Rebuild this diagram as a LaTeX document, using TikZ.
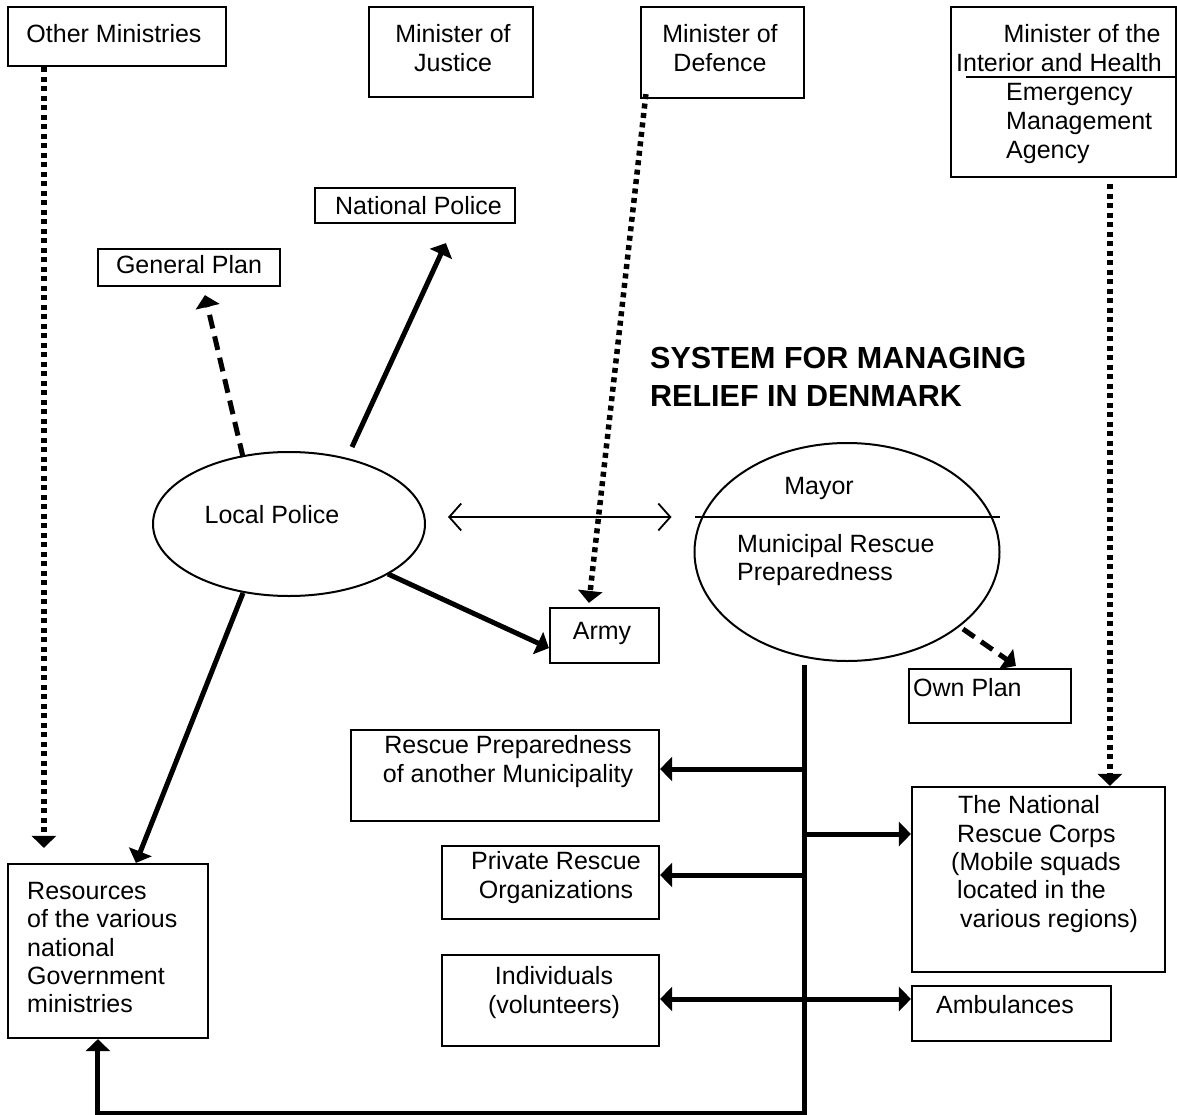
\documentclass[tikz,border=0pt]{standalone}
\usepackage{fontspec}
\setmainfont{Liberation Sans}
\usetikzlibrary{arrows.meta,shapes.geometric,calc}
\begin{document}
\begin{tikzpicture}[x=1pt,y=-1pt,
  box/.style={draw,line width=2.2pt,inner sep=0pt},
  oval/.style={draw,ellipse,line width=2pt,inner sep=0pt},
  txt/.style={inner sep=0pt,anchor=base,font=\fontsize{25}{29}\selectfont},
  ltxt/.style={txt,anchor=base west},
  ttl/.style={inner sep=0pt,anchor=base west,font=\fontsize{30.5}{37}\selectfont\bfseries},
  heavy/.style={line width=5pt},
  tip/.style={-{Triangle[length=12pt,width=24pt]}},
  twotip/.style={{Triangle[length=12pt,width=24pt]}-{Triangle[length=12pt,width=24pt]}},
  dots/.style={line width=5.5pt,dash pattern=on 5pt off 4.5pt},
  dashes/.style={line width=5pt,dash pattern=on 14pt off 8pt}]
\fill[white] (0,0) rectangle (1177,1115);
\useasboundingbox (0,0) rectangle (1177,1115);

% top row
\node[box,minimum width=218pt,minimum height=59pt] (om) at (117,36.5) {};
\node[txt] (omT) at (114,43) {Other Ministries};

\node[box,minimum width=164pt,minimum height=90pt] (mj) at (451,52) {};
\node[txt] (mjT1) at (453,43) {Minister of};
\node[txt] (mjT2) at (453,72) {Justice};

\node[box,minimum width=163pt,minimum height=91pt] (md) at (722.5,52.5) {};
\node[txt] (mdT1) at (720,43) {Minister of};
\node[txt] (mdT2) at (720,72) {Defence};

\node[box,minimum width=225pt,minimum height=170pt] (mi) at (1063.5,92) {};
\node[txt] (miT1) at (1082,43) {Minister of the};
\node[txt] (miT2) at (1059,72) {Interior and Health};
\draw[line width=2pt] ($(mi.west)+(16,-15)$) -- ($(mi.east)+(0,-15)$);
\node[ltxt] (miT3) at (1006,101) {Emergency};
\node[ltxt] (miT4) at (1006,130) {Management};
\node[ltxt] (miT5) at (1006,159) {Agency};

\node[box,minimum width=200pt,minimum height=35pt] (np) at (415,205.5) {};
\node[txt] (npT) at (418.5,215) {National Police};

\node[box,minimum width=182pt,minimum height=37pt] (gp) at (189,267.5) {};
\node[txt] (gpT) at (189,273) {General Plan};

% title
\node[ttl] (t1) at (650,368) {SYSTEM FOR MANAGING};
\node[ttl] (t2) at (650,406) {RELIEF IN DENMARK};

% ellipses
\node[oval,minimum width=272pt,minimum height=144pt] (lp) at (289,524) {};
\node[txt] (lpT) at (272,523) {Local Police};

\node[oval,minimum width=305pt,minimum height=218pt] (mayor) at (847,552) {};
\draw[line width=2pt] ($(mayor.center)+(-152,-35)$) -- ($(mayor.center)+(153,-35)$);
\node[txt] (mayT) at (819,494) {Mayor};
\node[ltxt] (mrT1) at (737,552) {Municipal Rescue};
\node[ltxt] (mrT2) at (737,580) {Preparedness};

% middle boxes
\node[box,minimum width=109pt,minimum height=55pt] (army) at (604.5,635.5) {};
\node[txt] (armyT) at (602,639) {Army};

\node[box,minimum width=162pt,minimum height=54pt] (own) at (990,696) {};
\node[ltxt] (ownT) at (913,696) {Own Plan};

\node[box,minimum width=308pt,minimum height=91pt] (rp) at (505,775.5) {};
\node[txt] (rpT1) at (508,753) {Rescue Preparedness};
\node[txt] (rpT2) at (508,782) {of another Municipality};

\node[box,minimum width=217pt,minimum height=73pt] (pr) at (550.5,882.5) {};
\node[txt] (prT1) at (556,869) {Private Rescue};
\node[txt] (prT2) at (556,898) {Organizations};

\node[box,minimum width=217pt,minimum height=91pt] (ind) at (550.5,1000.5) {};
\node[txt] (indT1) at (554,984) {Individuals};
\node[txt] (indT2) at (554,1013) {(volunteers)};

\node[box,minimum width=253pt,minimum height=185pt] (nrc) at (1038.5,879.5) {};
\node[ltxt] (nrcT1) at (958,813) {The National};
\node[ltxt] (nrcT2) at (957,842) {Rescue Corps};
\node[ltxt] (nrcT3) at (951,870) {(Mobile squads};
\node[ltxt] (nrcT4) at (957,898) {located in the};
\node[ltxt] (nrcT5) at (960,927) {various regions)};

\node[box,minimum width=199pt,minimum height=55pt] (amb) at (1011.5,1013.5) {};
\node[ltxt] (ambT) at (936,1013) {Ambulances};

\node[box,minimum width=200pt,minimum height=174pt] (res) at (108,951) {};
\node[ltxt] (resT1) at (27,899) {Resources};
\node[ltxt] (resT2) at (27,927) {of the various};
\node[ltxt] (resT3) at (27,956) {national};
\node[ltxt] (resT4) at (27,984) {Government};
\node[ltxt] (resT5) at (27,1012) {ministries};

% dotted connectors
\draw[dots,tip] ($(om.south west)+(37,0)$) -- ($(res.north west)+(37,-15)$);
\draw[dots,tip] ($(md.south west)+(6,-5)$) -- ($(army.north west)+(40,-4)$);
\draw[dots,tip] ($(mi.south west)+(160,6)$) -- ($(nrc.north west)+(199,0)$);

% from local police
\draw[heavy,tip] ($(lp.center)+(63,-77)$) -- ($(np.south west)+(132,19)$);
\draw[dashes,tip] ($(lp.center)+(-46,-67)$) -- ($(gp.south west)+(108,8)$);
\draw[heavy,tip] ($(lp.center)+(99,50)$) -- ($(army.south west)+(0,-16)$);
\draw[heavy,tip] ($(lp.center)+(-46,69)$) -- ($(res.north west)+(129,0)$);

% local police <-> mayor
\draw[line width=1.8pt,{Straight Barb[length=12pt,width=27pt]}-{Straight Barb[length=12pt,width=27pt]}]
  ($(lp.east)+(22,-7)$) -- ($(mayor.west)+(-22,-35)$);

% mayor -> own plan
\draw[dashes,tip] ($(mayor.center)+(116,77)$) -- ($(own.north west)+(108,-2)$);

% trunk line
\coordinate (bustop) at ($(mayor.south)+(-43,3)$);
\coordinate (busbot) at ($(bustop)+(0,448)$);
\coordinate (resIn) at ($(res.south west)+(91,0)$);
\draw[heavy,tip] (bustop) -- (busbot) -- (busbot -| resIn) -- (resIn);

\coordinate (rpIn) at ($(rp.east)+(0,-6.5)$);
\coordinate (prIn) at ($(pr.east)+(0,-7.5)$);
\coordinate (nrcIn) at ($(nrc.west)+(0,-45.5)$);
\coordinate (indIn) at ($(ind.east)+(0,-1.5)$);
\coordinate (ambIn) at ($(amb.west)+(0,-14.5)$);
\draw[heavy,tip] (bustop |- rpIn) -- (rpIn);
\draw[heavy,tip] (bustop |- prIn) -- (prIn);
\draw[heavy,tip] (bustop |- nrcIn) -- (nrcIn);
\draw[heavy,twotip] (indIn) -- (ambIn);
\end{tikzpicture}
\end{document}
